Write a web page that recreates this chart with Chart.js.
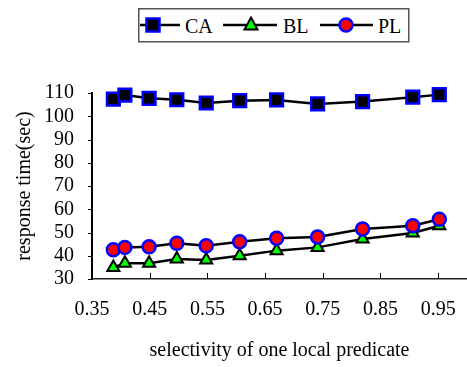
<!DOCTYPE html>
<html>
<head>
<meta charset="utf-8">
<title>response time vs selectivity</title>
<script src="https://cdn.jsdelivr.net/npm/chart.js@4.4.1/dist/chart.umd.min.js"></script>
<style>
  body { margin: 0; background: #fff; }
  #wrap { position: relative; width: 467px; height: 367px; }
  #legend { position: absolute; left: 138px; top: 8px; }
  #legend text { font: 20px "Liberation Serif", "Times New Roman", serif; fill: #000; }
</style>
</head>
<body>
<div id="wrap">
  <canvas id="chartResults" width="467" height="367"></canvas>
  <svg id="legend" width="272" height="35">
    <rect x="0.75" y="0.75" width="270" height="33" fill="#fff" stroke="#555" stroke-width="1.5"/>
    <line x1="2" y1="17" x2="42" y2="17" stroke="#000" stroke-width="2.5"/>
    <rect x="8.5" y="10.5" width="13" height="13" fill="#000" stroke="#00f" stroke-width="2.5"/>
    <text x="47" y="25">CA</text>
    <line x1="85" y1="17" x2="139" y2="17" stroke="#000" stroke-width="2.5"/>
    <polygon points="113,9.5 119.5,21.5 106.5,21.5" fill="#0f0" stroke="#000" stroke-width="2"/>
    <text x="145" y="25">BL</text>
    <line x1="182" y1="17" x2="235" y2="17" stroke="#000" stroke-width="2.5"/>
    <circle cx="208" cy="17" r="6.5" fill="#f00" stroke="#00f" stroke-width="2.5"/>
    <text x="240" y="25">PL</text>
  </svg>
</div>
<script>
'use strict';

// data
const selectivity = [0.387, 0.407, 0.449, 0.497, 0.548, 0.606, 0.67, 0.741, 0.819, 0.906, 0.952];
const caTimes = [107.4, 109.1, 107.7, 107.1, 105.7, 106.7, 107.0, 105.3, 106.3, 108.2, 109.3];
const blTimes = [35.0, 36.8, 36.8, 38.6, 38.2, 40.0, 42.2, 43.6, 47.2, 49.8, 52.9];
const plTimes = [42.6, 43.6, 43.9, 45.4, 44.3, 46.0, 47.5, 48.1, 51.5, 52.9, 55.7];
const xTickValues = [0.35, 0.45, 0.55, 0.65, 0.75, 0.85, 0.95];
const yTickValues = [30, 40, 50, 60, 70, 80, 90, 100, 110];

const serif = '"Liberation Serif", "Times New Roman", serif';

let toPoints = (ys) => ys.map((y, i) => ({x: selectivity[i], y: y}));

// excel style tick marks: x ticks point inwards, y ticks point outwards
const tickMarks = {
  id: 'tickMarks',
  beforeDatasetsDraw(chart) {
    const {ctx, chartArea, scales} = chart;
    ctx.save();
    ctx.strokeStyle = '#000';
    ctx.lineWidth = 1;
    scales.x.ticks.forEach(function(t) {
      let px = Math.round(scales.x.getPixelForValue(t.value)) + 0.5;
      ctx.beginPath();
      ctx.moveTo(px, chartArea.bottom);
      ctx.lineTo(px, chartArea.bottom - 6);
      ctx.stroke();
    });
    scales.y.ticks.forEach(function(t) {
      let py = Math.round(scales.y.getPixelForValue(t.value)) + 0.5;
      ctx.beginPath();
      ctx.moveTo(chartArea.left, py);
      ctx.lineTo(chartArea.left - 4, py);
      ctx.stroke();
    });
    ctx.restore();
  }
};

let ctx = document.getElementById('chartResults').getContext('2d');
/* eslint-disable-next-line no-unused-vars, no-undef */
let chart = new Chart(ctx, {
  type: 'line',
  data: {
    datasets: [{
      label: 'CA',
      data: toPoints(caTimes),
      borderColor: '#000',
      borderWidth: 2.5,
      pointStyle: 'rect',
      pointRadius: 9,
      pointBorderWidth: 2.5,
      pointBorderColor: '#00f',
      pointBackgroundColor: '#000',
      order: 0
    }, {
      label: 'BL',
      data: toPoints(blTimes),
      borderColor: '#000',
      borderWidth: 2.5,
      pointStyle: 'triangle',
      pointRadius: 7,
      pointBorderWidth: 2,
      pointBorderColor: '#000',
      pointBackgroundColor: '#0f0',
      order: 2
    }, {
      label: 'PL',
      data: toPoints(plTimes),
      borderColor: '#000',
      borderWidth: 2.5,
      pointStyle: 'circle',
      pointRadius: 6.5,
      pointBorderWidth: 2.5,
      pointBorderColor: '#00f',
      pointBackgroundColor: '#f00',
      order: 1
    }]
  },
  options: {
    responsive: false,
    animation: false,
    clip: false,
    layout: {autoPadding: false, padding: {top: 93, right: 0, left: 0, bottom: 0}},
    plugins: {legend: {display: false}, tooltip: {enabled: false}},
    scales: {
      x: {
        type: 'linear',
        min: 0.35,
        max: 1.0,
        afterBuildTicks: (s) => { s.ticks = xTickValues.map(v => ({value: v})); },
        afterFit: (s) => { s.height = 88; s.paddingLeft = 0; s.paddingRight = 0; },
        grid: {display: false, drawTicks: false},
        border: {display: true, color: '#222', width: 1.5},
        ticks: {
          padding: 19,
          autoSkip: false,
          color: '#000',
          font: {family: serif, size: 20},
          maxRotation: 0,
          callback: (v) => v.toFixed(2)
        },
        title: {
          display: true,
          text: 'selectivity of one local predicate',
          color: '#000',
          font: {family: serif, size: 20},
          padding: {top: 0, bottom: 4}
        }
      },
      y: {
        min: 30,
        max: 110,
        afterBuildTicks: (s) => { s.ticks = yTickValues.map(v => ({value: v})); },
        afterFit: (s) => { s.width = 92; },
        grid: {display: false, drawTicks: false},
        border: {display: true, color: '#000', width: 2},
        ticks: {
          padding: 18,
          autoSkip: false,
          color: '#000',
          font: {family: serif, size: 20}
        },
        title: {
          display: true,
          text: 'response time(sec)',
          color: '#000',
          font: {family: serif, size: 20},
          padding: {top: 13, bottom: 0}
        }
      }
    }
  },
  plugins: [tickMarks]
});
</script>
</body>
</html>
